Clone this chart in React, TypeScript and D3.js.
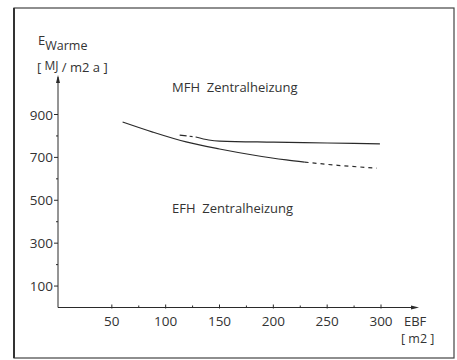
import * as d3 from 'd3';

const width = 457;
const height = 360;

// EFH-Kurve (untere), durchgezogen und gestrichelt
const efhSolidX = [60, 88, 119, 150, 181, 212, 229];
const efhSolidY = [865, 818, 772, 739, 711, 688, 678];
const efhDashX = [229, 260, 296];
const efhDashY = [678, 663, 650];

// MFH-Kurve (obere)
const mfhDashX = [113, 128];
const mfhDashY = [804, 795];
const mfhSolidX = [128, 140, 150, 200, 250, 299];
const mfhSolidY = [795, 781, 776, 771, 767, 763];

const yTicks = [100, 300, 500, 700, 900];
const yMinor = [200, 400, 600, 800];
const xTicks = [50, 100, 150, 200, 250, 300];
const xMinor = [75, 125, 175, 225, 275];

const font = "'Open Sans', 'DejaVu Sans', sans-serif";
const ink = '#2a2a2a';

const x = d3.scaleLinear().domain([0, 300]).range([58, 381]);
const y = d3.scaleLinear().domain([0, 900]).range([307.5, 114.5]);

const toPts = (xs: number[], ys: number[]) => xs.map((v, i) => [v, ys[i]] as [number, number]);

const line = d3
  .line<[number, number]>()
  .x((d) => x(d[0]))
  .y((d) => y(d[1]))
  .curve(d3.curveMonotoneX);

export default function App() {
  const x0 = x(0);
  const y0 = y(0);
  const xEnd = 417;
  const yEnd = 77;
  return (
    <svg width={width} height={height} style={{ position: 'absolute', left: 0, top: 0, background: '#fff' }}>
      {/* Rahmen */}
      <rect x={14} y={8} width={440} height={350} fill="none" stroke="#444" strokeWidth={1.2} />
      <line x1={14} y1={8} x2={14} y2={358} stroke="#333" strokeWidth={2} />

      {/* Achsen */}
      <line x1={x0} y1={y0} x2={xEnd} y2={y0} stroke={ink} strokeWidth={1} />
      <path d={`M${xEnd + 2},${y0} L${xEnd - 6},${y0 - 2} L${xEnd - 6},${y0 + 2} Z`} fill={ink} />
      <line x1={x0} y1={y0} x2={x0} y2={yEnd} stroke={ink} strokeWidth={1} />
      <path d={`M${x0},${yEnd - 2} L${x0 - 2},${yEnd + 6} L${x0 + 2},${yEnd + 6} Z`} fill={ink} />

      {yTicks.map((t) => (
        <g key={t}>
          <line x1={x0 - 4} x2={x0} y1={y(t)} y2={y(t)} stroke={ink} />
          <text x={x0 - 5} y={y(t) + 5} textAnchor="end" fontFamily={font} fontSize={13.5} fill="#333">
            {t}
          </text>
        </g>
      ))}
      {yMinor.map((t) => (
        <line key={t} x1={x0 - 2} x2={x0} y1={y(t)} y2={y(t)} stroke={ink} />
      ))}
      {xTicks.map((t) => (
        <g key={t}>
          <line x1={x(t)} x2={x(t)} y1={y0 - 3} y2={y0 + 1} stroke={ink} />
          <text x={x(t)} y={326} textAnchor="middle" fontFamily={font} fontSize={13.5} fill="#333">
            {t}
          </text>
        </g>
      ))}
      {xMinor.map((t) => (
        <line key={t} x1={x(t)} x2={x(t)} y1={y0 - 2} y2={y0} stroke={ink} />
      ))}

      {/* Achsentitel */}
      <text x={38} y={45} fontFamily={font} fontSize={13} fill="#333">
        E<tspan fontSize={12.5} dy={5}>Warme</tspan>
      </text>
      <text x={37} y={72} fontFamily={font} fontSize={13} fill="#333">
        [<tspan fontSize={12} dy={-2}> MJ</tspan>
        <tspan dy={2}> / m2 a </tspan>]
      </text>
      <text x={404} y={326} fontFamily={font} fontSize={13} fill="#333">
        EBF
      </text>
      <text x={401} y={343} fontFamily={font} fontSize={12.5} fill="#333">
        [ m2 ]
      </text>

      <text x={172} y={92} fontFamily={font} fontSize={13} fill="#333" style={{ whiteSpace: 'pre' }}>
        {'MFH  Zentralheizung'}
      </text>
      <text x={172} y={213} fontFamily={font} fontSize={13} fill="#333" style={{ whiteSpace: 'pre' }}>
        {'EFH  Zentralheizung'}
      </text>

      {/* Kurven */}
      <path d={line(toPts(efhSolidX, efhSolidY)) ?? ''} fill="none" stroke={ink} strokeWidth={1.2} />
      <path
        d={line(toPts(efhDashX, efhDashY)) ?? ''}
        fill="none"
        stroke={ink}
        strokeWidth={1.2}
        strokeDasharray="4 4"
      />
      <path
        d={line(toPts(mfhDashX, mfhDashY)) ?? ''}
        fill="none"
        stroke={ink}
        strokeWidth={1.2}
        strokeDasharray="7 3 3 3"
      />
      <path d={line(toPts(mfhSolidX, mfhSolidY)) ?? ''} fill="none" stroke={ink} strokeWidth={1.2} />
    </svg>
  );
}
